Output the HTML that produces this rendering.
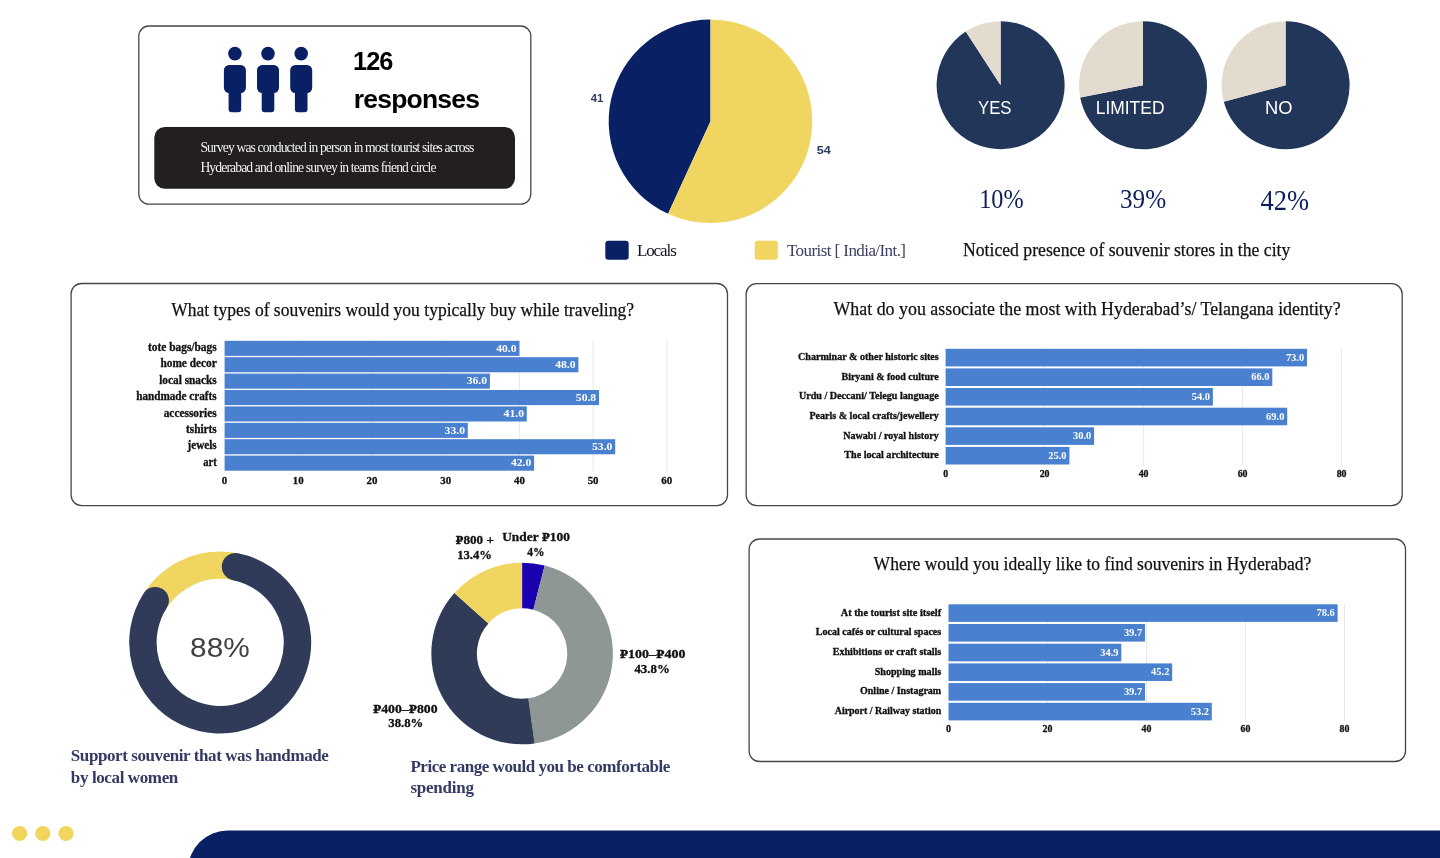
<!DOCTYPE html>
<html lang="en">
<head>
<meta charset="utf-8">
<title>Survey results</title>
<style>
html,body{margin:0;padding:0;background:#fff;}
body{width:1440px;height:858px;overflow:hidden;position:relative;}
svg{position:absolute;left:0;top:0;display:block;}
.se{font-family:"Liberation Serif", "DejaVu Serif", serif;}
.sa{font-family:"Liberation Sans", "DejaVu Sans", sans-serif;}
text{white-space:pre;}
</style>
</head>
<body>
<svg width="1440" height="858" viewBox="0 0 1440 858">
<rect x="138.8" y="26" width="392" height="178.1" rx="10" fill="#fff" stroke="#474747" stroke-width="1.3"/>
<rect x="154.3" y="127" width="360.7" height="61.8" rx="10.5" fill="#231f20"/>
<g fill="#0a2064"><circle cx="234.9" cy="53.6" r="6.8"/><rect x="223.9" y="64.9" width="22" height="28" rx="5.2"/><rect x="228.6" y="80" width="12.6" height="32.2" rx="3"/></g>
<g fill="#0a2064"><circle cx="268.0" cy="53.6" r="6.8"/><rect x="257.0" y="64.9" width="22" height="28" rx="5.2"/><rect x="261.7" y="80" width="12.6" height="32.2" rx="3"/></g>
<g fill="#0a2064"><circle cx="301.2" cy="53.6" r="6.8"/><rect x="290.2" y="64.9" width="22" height="28" rx="5.2"/><rect x="294.9" y="80" width="12.6" height="32.2" rx="3"/></g>
<text class="sa" x="353.1" y="70.3" font-size="25.3" font-weight="bold" fill="#000" letter-spacing="-1.0">126</text>
<text class="sa" y="108.3" font-size="26.5" fill="#000" font-weight="bold" x="353.7" textLength="126.3" lengthAdjust="spacing">responses</text>
<text class="se" y="151.9" font-size="13.6" fill="#f2f2f2" x="200.4" textLength="274.0" lengthAdjust="spacing">Survey was conducted in person in most tourist sites across</text>
<text class="se" y="171.7" font-size="13.6" fill="#f2f2f2" x="200.4" textLength="236.1" lengthAdjust="spacing">Hyderabad and online survey in teams friend circle</text>
<path d="M710.50 121.30L668.07 213.84A101.8 101.8 0 0 1 710.50 19.50Z" fill="#0a2064"/>
<path d="M710.50 121.30L710.50 19.50A101.8 101.8 0 1 1 668.07 213.84Z" fill="#f0d660"/>
<text class="sa" y="101.8" font-size="11.5" fill="#2a3a63" font-weight="bold" x="590.7" textLength="12.6" lengthAdjust="spacingAndGlyphs">41</text>
<text class="sa" y="154.0" font-size="11.5" fill="#2a3a63" font-weight="bold" x="816.7" textLength="14.0" lengthAdjust="spacingAndGlyphs">54</text>
<rect x="605.3" y="240.8" width="23.4" height="19" rx="3" fill="#0a2064"/>
<rect x="754.7" y="240.8" width="23.2" height="19" rx="3" fill="#f0d660"/>
<text class="se" y="255.5" font-size="17" fill="#15151f" x="636.9" textLength="39.9" lengthAdjust="spacing">Locals</text>
<text class="se" y="255.5" font-size="17" fill="#3d4060" x="787.0" textLength="119.0" lengthAdjust="spacing">Tourist [ India/Int.]</text>
<path d="M1000.60 85.20L1000.60 21.20A64 64 0 1 1 965.74 31.53Z" fill="#22365a"/>
<path d="M1000.60 85.20L965.74 31.53A64 64 0 0 1 1000.60 21.20Z" fill="#e3dbce"/>
<text class="sa" y="114.3" font-size="18.5" fill="#fff" x="978.0" textLength="33.5" lengthAdjust="spacingAndGlyphs">YES</text>
<path d="M1143.00 85.20L1143.00 21.20A64 64 0 1 1 1080.18 97.41Z" fill="#22365a"/>
<path d="M1143.00 85.20L1080.18 97.41A64 64 0 0 1 1143.00 21.20Z" fill="#e3dbce"/>
<text class="sa" y="114.3" font-size="18.5" fill="#fff" x="1095.7" textLength="68.8" lengthAdjust="spacingAndGlyphs">LIMITED</text>
<path d="M1285.60 85.20L1285.60 21.20A64 64 0 1 1 1223.78 101.76Z" fill="#22365a"/>
<path d="M1285.60 85.20L1223.78 101.76A64 64 0 0 1 1285.60 21.20Z" fill="#e3dbce"/>
<text class="sa" y="114.3" font-size="18.5" fill="#fff" x="1265.0" textLength="27.5" lengthAdjust="spacingAndGlyphs">NO</text>
<text class="se" y="207.5" font-size="26.5" fill="#0c1f5c" x="979.2" textLength="44.4" lengthAdjust="spacingAndGlyphs">10%</text>
<text class="se" y="207.5" font-size="26.5" fill="#0c1f5c" x="1120.0" textLength="46.1" lengthAdjust="spacingAndGlyphs">39%</text>
<text class="se" y="210.3" font-size="28.5" fill="#0c1f5c" x="1260.6" textLength="48.6" lengthAdjust="spacingAndGlyphs">42%</text>
<text class="se" y="255.6" font-size="18.5" fill="#111" x="963.0" textLength="327.3" lengthAdjust="spacingAndGlyphs" stroke="#111" stroke-width="0.25">Noticed presence of souvenir stores in the city</text>
<rect x="71.1" y="283.5" width="656.4" height="222.1" rx="10.5" fill="#fff" stroke="#474747" stroke-width="1.3"/>
<text class="se" y="316.3" font-size="19" fill="#111" x="171.2" textLength="462.8" lengthAdjust="spacingAndGlyphs" stroke="#111" stroke-width="0.25">What types of souvenirs would you typically buy while traveling?</text>
<rect x="297.8" y="340.8" width="1" height="130.9" fill="#e8e8e8"/>
<rect x="371.5" y="340.8" width="1" height="130.9" fill="#e8e8e8"/>
<rect x="445.2" y="340.8" width="1" height="130.9" fill="#e8e8e8"/>
<rect x="518.9" y="340.8" width="1" height="130.9" fill="#e8e8e8"/>
<rect x="592.6" y="340.8" width="1" height="130.9" fill="#e8e8e8"/>
<rect x="666.3" y="340.8" width="1" height="130.9" fill="#e8e8e8"/>
<rect x="224.6" y="340.8" width="294.8" height="15.1" fill="#4a80d0"/>
<text class="se" y="351.0" font-size="11.5" fill="#111" font-weight="bold" x="148.0" textLength="68.7" lengthAdjust="spacingAndGlyphs" stroke="#111" stroke-width="0.3">tote bags/bags</text>
<text class="se" y="351.6" font-size="10.5" fill="#fff" font-weight="bold" x="496.2" textLength="20.4" lengthAdjust="spacingAndGlyphs">40.0</text>
<rect x="224.6" y="357.2" width="353.8" height="15.1" fill="#4a80d0"/>
<text class="se" y="367.4" font-size="11.5" fill="#111" font-weight="bold" x="160.5" textLength="56.2" lengthAdjust="spacingAndGlyphs" stroke="#111" stroke-width="0.3">home decor</text>
<text class="se" y="367.9" font-size="10.5" fill="#fff" font-weight="bold" x="555.2" textLength="20.4" lengthAdjust="spacingAndGlyphs">48.0</text>
<rect x="224.6" y="373.6" width="265.3" height="15.1" fill="#4a80d0"/>
<text class="se" y="383.8" font-size="11.5" fill="#111" font-weight="bold" x="159.2" textLength="57.5" lengthAdjust="spacingAndGlyphs" stroke="#111" stroke-width="0.3">local snacks</text>
<text class="se" y="384.4" font-size="10.5" fill="#fff" font-weight="bold" x="466.7" textLength="20.4" lengthAdjust="spacingAndGlyphs">36.0</text>
<rect x="224.6" y="390.0" width="374.4" height="15.1" fill="#4a80d0"/>
<text class="se" y="400.2" font-size="11.5" fill="#111" font-weight="bold" x="136.2" textLength="80.5" lengthAdjust="spacingAndGlyphs" stroke="#111" stroke-width="0.3">handmade crafts</text>
<text class="se" y="400.8" font-size="10.5" fill="#fff" font-weight="bold" x="575.8" textLength="20.4" lengthAdjust="spacingAndGlyphs">50.8</text>
<rect x="224.6" y="406.4" width="302.2" height="15.1" fill="#4a80d0"/>
<text class="se" y="416.6" font-size="11.5" fill="#111" font-weight="bold" x="163.7" textLength="53.0" lengthAdjust="spacingAndGlyphs" stroke="#111" stroke-width="0.3">accessories</text>
<text class="se" y="417.1" font-size="10.5" fill="#fff" font-weight="bold" x="503.6" textLength="20.4" lengthAdjust="spacingAndGlyphs">41.0</text>
<rect x="224.6" y="422.8" width="243.2" height="15.1" fill="#4a80d0"/>
<text class="se" y="433.0" font-size="11.5" fill="#111" font-weight="bold" x="186.0" textLength="30.7" lengthAdjust="spacingAndGlyphs" stroke="#111" stroke-width="0.3">tshirts</text>
<text class="se" y="433.6" font-size="10.5" fill="#fff" font-weight="bold" x="444.6" textLength="20.4" lengthAdjust="spacingAndGlyphs">33.0</text>
<rect x="224.6" y="439.2" width="390.6" height="15.1" fill="#4a80d0"/>
<text class="se" y="449.4" font-size="11.5" fill="#111" font-weight="bold" x="187.5" textLength="29.2" lengthAdjust="spacingAndGlyphs" stroke="#111" stroke-width="0.3">jewels</text>
<text class="se" y="449.9" font-size="10.5" fill="#fff" font-weight="bold" x="592.0" textLength="20.4" lengthAdjust="spacingAndGlyphs">53.0</text>
<rect x="224.6" y="455.6" width="309.5" height="15.1" fill="#4a80d0"/>
<text class="se" y="465.8" font-size="11.5" fill="#111" font-weight="bold" x="203.2" textLength="13.5" lengthAdjust="spacingAndGlyphs" stroke="#111" stroke-width="0.3">art</text>
<text class="se" y="466.4" font-size="10.5" fill="#fff" font-weight="bold" x="510.9" textLength="20.4" lengthAdjust="spacingAndGlyphs">42.0</text>
<text class="se" y="483.9" font-size="10.9" fill="#111" font-weight="bold" x="224.6" text-anchor="middle" stroke="#111" stroke-width="0.3">0</text>
<text class="se" y="483.9" font-size="10.9" fill="#111" font-weight="bold" x="298.3" text-anchor="middle" stroke="#111" stroke-width="0.3">10</text>
<text class="se" y="483.9" font-size="10.9" fill="#111" font-weight="bold" x="372.0" text-anchor="middle" stroke="#111" stroke-width="0.3">20</text>
<text class="se" y="483.9" font-size="10.9" fill="#111" font-weight="bold" x="445.7" text-anchor="middle" stroke="#111" stroke-width="0.3">30</text>
<text class="se" y="483.9" font-size="10.9" fill="#111" font-weight="bold" x="519.4" text-anchor="middle" stroke="#111" stroke-width="0.3">40</text>
<text class="se" y="483.9" font-size="10.9" fill="#111" font-weight="bold" x="593.1" text-anchor="middle" stroke="#111" stroke-width="0.3">50</text>
<text class="se" y="483.9" font-size="10.9" fill="#111" font-weight="bold" x="666.8" text-anchor="middle" stroke="#111" stroke-width="0.3">60</text>
<rect x="746.15" y="283.7" width="656.05" height="221.9" rx="10.5" fill="#fff" stroke="#474747" stroke-width="1.3"/>
<text class="se" y="315.3" font-size="19" fill="#111" x="833.5" textLength="507.2" lengthAdjust="spacingAndGlyphs" stroke="#111" stroke-width="0.25">What do you associate the most with Hyderabad’s/ Telangana identity?</text>
<rect x="1044.1" y="348.8" width="1" height="116.7" fill="#e8e8e8"/>
<rect x="1143.1" y="348.8" width="1" height="116.7" fill="#e8e8e8"/>
<rect x="1242.1" y="348.8" width="1" height="116.7" fill="#e8e8e8"/>
<rect x="1341.1" y="348.8" width="1" height="116.7" fill="#e8e8e8"/>
<rect x="945.6" y="348.8" width="361.4" height="17.6" fill="#4a80d0"/>
<text class="se" y="360.2" font-size="9.6" fill="#111" font-weight="bold" x="798.0" textLength="140.7" lengthAdjust="spacingAndGlyphs" stroke="#111" stroke-width="0.3">Charminar &amp; other historic sites</text>
<text class="se" y="360.8" font-size="9.5" fill="#fff" font-weight="bold" x="1285.9" textLength="18.3" lengthAdjust="spacingAndGlyphs">73.0</text>
<rect x="945.6" y="368.4" width="326.7" height="17.6" fill="#4a80d0"/>
<text class="se" y="379.8" font-size="9.6" fill="#111" font-weight="bold" x="841.5" textLength="97.2" lengthAdjust="spacingAndGlyphs" stroke="#111" stroke-width="0.3">Biryani &amp; food culture</text>
<text class="se" y="380.4" font-size="9.5" fill="#fff" font-weight="bold" x="1251.2" textLength="18.3" lengthAdjust="spacingAndGlyphs">66.0</text>
<rect x="945.6" y="388.0" width="267.3" height="17.6" fill="#4a80d0"/>
<text class="se" y="399.4" font-size="9.6" fill="#111" font-weight="bold" x="798.9" textLength="139.8" lengthAdjust="spacingAndGlyphs" stroke="#111" stroke-width="0.3">Urdu / Deccani/ Telegu language</text>
<text class="se" y="400.0" font-size="9.5" fill="#fff" font-weight="bold" x="1191.8" textLength="18.3" lengthAdjust="spacingAndGlyphs">54.0</text>
<rect x="945.6" y="407.7" width="341.6" height="17.6" fill="#4a80d0"/>
<text class="se" y="419.1" font-size="9.6" fill="#111" font-weight="bold" x="809.4" textLength="129.3" lengthAdjust="spacingAndGlyphs" stroke="#111" stroke-width="0.3">Pearls &amp; local crafts/jewellery</text>
<text class="se" y="419.7" font-size="9.5" fill="#fff" font-weight="bold" x="1266.1" textLength="18.3" lengthAdjust="spacingAndGlyphs">69.0</text>
<rect x="945.6" y="427.3" width="148.5" height="17.6" fill="#4a80d0"/>
<text class="se" y="438.7" font-size="9.6" fill="#111" font-weight="bold" x="843.3" textLength="95.4" lengthAdjust="spacingAndGlyphs" stroke="#111" stroke-width="0.3">Nawabi / royal history</text>
<text class="se" y="439.3" font-size="9.5" fill="#fff" font-weight="bold" x="1073.0" textLength="18.3" lengthAdjust="spacingAndGlyphs">30.0</text>
<rect x="945.6" y="446.9" width="123.8" height="17.6" fill="#4a80d0"/>
<text class="se" y="458.3" font-size="9.6" fill="#111" font-weight="bold" x="844.3" textLength="94.4" lengthAdjust="spacingAndGlyphs" stroke="#111" stroke-width="0.3">The local architecture</text>
<text class="se" y="458.9" font-size="9.5" fill="#fff" font-weight="bold" x="1048.2" textLength="18.3" lengthAdjust="spacingAndGlyphs">25.0</text>
<text class="se" y="476.7" font-size="9.9" fill="#111" font-weight="bold" x="945.6" text-anchor="middle" stroke="#111" stroke-width="0.3">0</text>
<text class="se" y="476.7" font-size="9.9" fill="#111" font-weight="bold" x="1044.6" text-anchor="middle" stroke="#111" stroke-width="0.3">20</text>
<text class="se" y="476.7" font-size="9.9" fill="#111" font-weight="bold" x="1143.6" text-anchor="middle" stroke="#111" stroke-width="0.3">40</text>
<text class="se" y="476.7" font-size="9.9" fill="#111" font-weight="bold" x="1242.6" text-anchor="middle" stroke="#111" stroke-width="0.3">60</text>
<text class="se" y="476.7" font-size="9.9" fill="#111" font-weight="bold" x="1341.6" text-anchor="middle" stroke="#111" stroke-width="0.3">80</text>
<rect x="749.1" y="539.0" width="656.4" height="222.5" rx="10.5" fill="#fff" stroke="#474747" stroke-width="1.3"/>
<text class="se" y="570.3" font-size="19" fill="#111" x="873.6" textLength="437.8" lengthAdjust="spacingAndGlyphs" stroke="#111" stroke-width="0.25">Where would you ideally like to find souvenirs in Hyderabad?</text>
<rect x="1047.0" y="604.3" width="1" height="117.1" fill="#e8e8e8"/>
<rect x="1146.0" y="604.3" width="1" height="117.1" fill="#e8e8e8"/>
<rect x="1245.0" y="604.3" width="1" height="117.1" fill="#e8e8e8"/>
<rect x="1344.0" y="604.3" width="1" height="117.1" fill="#e8e8e8"/>
<rect x="948.5" y="604.3" width="389.1" height="17.6" fill="#4a80d0"/>
<text class="se" y="615.6" font-size="9.6" fill="#111" font-weight="bold" x="840.7" textLength="100.5" lengthAdjust="spacingAndGlyphs" stroke="#111" stroke-width="0.3">At the tourist site itself</text>
<text class="se" y="616.3" font-size="9.5" fill="#fff" font-weight="bold" x="1316.5" textLength="18.3" lengthAdjust="spacingAndGlyphs">78.6</text>
<rect x="948.5" y="624.0" width="196.5" height="17.6" fill="#4a80d0"/>
<text class="se" y="635.3" font-size="9.6" fill="#111" font-weight="bold" x="815.8" textLength="125.4" lengthAdjust="spacingAndGlyphs" stroke="#111" stroke-width="0.3">Local cafés or cultural spaces</text>
<text class="se" y="636.0" font-size="9.5" fill="#fff" font-weight="bold" x="1123.9" textLength="18.3" lengthAdjust="spacingAndGlyphs">39.7</text>
<rect x="948.5" y="643.7" width="172.8" height="17.6" fill="#4a80d0"/>
<text class="se" y="655.0" font-size="9.6" fill="#111" font-weight="bold" x="832.8" textLength="108.4" lengthAdjust="spacingAndGlyphs" stroke="#111" stroke-width="0.3">Exhibitions or craft stalls</text>
<text class="se" y="655.7" font-size="9.5" fill="#fff" font-weight="bold" x="1100.2" textLength="18.3" lengthAdjust="spacingAndGlyphs">34.9</text>
<rect x="948.5" y="663.4" width="223.7" height="17.6" fill="#4a80d0"/>
<text class="se" y="674.7" font-size="9.6" fill="#111" font-weight="bold" x="874.7" textLength="66.5" lengthAdjust="spacingAndGlyphs" stroke="#111" stroke-width="0.3">Shopping malls</text>
<text class="se" y="675.4" font-size="9.5" fill="#fff" font-weight="bold" x="1151.1" textLength="18.3" lengthAdjust="spacingAndGlyphs">45.2</text>
<rect x="948.5" y="683.1" width="196.5" height="17.6" fill="#4a80d0"/>
<text class="se" y="694.4" font-size="9.6" fill="#111" font-weight="bold" x="860.0" textLength="81.2" lengthAdjust="spacingAndGlyphs" stroke="#111" stroke-width="0.3">Online / Instagram</text>
<text class="se" y="695.1" font-size="9.5" fill="#fff" font-weight="bold" x="1123.9" textLength="18.3" lengthAdjust="spacingAndGlyphs">39.7</text>
<rect x="948.5" y="702.8" width="263.3" height="17.6" fill="#4a80d0"/>
<text class="se" y="714.1" font-size="9.6" fill="#111" font-weight="bold" x="834.7" textLength="106.5" lengthAdjust="spacingAndGlyphs" stroke="#111" stroke-width="0.3">Airport / Railway station</text>
<text class="se" y="714.8" font-size="9.5" fill="#fff" font-weight="bold" x="1190.7" textLength="18.3" lengthAdjust="spacingAndGlyphs">53.2</text>
<text class="se" y="731.9" font-size="9.9" fill="#111" font-weight="bold" x="948.5" text-anchor="middle" stroke="#111" stroke-width="0.3">0</text>
<text class="se" y="731.9" font-size="9.9" fill="#111" font-weight="bold" x="1047.5" text-anchor="middle" stroke="#111" stroke-width="0.3">20</text>
<text class="se" y="731.9" font-size="9.9" fill="#111" font-weight="bold" x="1146.5" text-anchor="middle" stroke="#111" stroke-width="0.3">40</text>
<text class="se" y="731.9" font-size="9.9" fill="#111" font-weight="bold" x="1245.5" text-anchor="middle" stroke="#111" stroke-width="0.3">60</text>
<text class="se" y="731.9" font-size="9.9" fill="#111" font-weight="bold" x="1344.5" text-anchor="middle" stroke="#111" stroke-width="0.3">80</text>
<path d="M155.22 600.63A77.3 77.3 0 0 1 235.48 566.73" fill="none" stroke="#f0d660" stroke-width="27.4"/>
<path d="M235.48 566.73A77.3 77.3 0 1 1 155.22 600.63" fill="none" stroke="#2f3b58" stroke-width="27.4" stroke-linecap="round"/>
<text class="sa" y="657.4" font-size="27" fill="#404040" x="219.9" text-anchor="middle" textLength="59.6" lengthAdjust="spacingAndGlyphs">88%</text>
<text class="se" y="761.0" font-size="17" fill="#343a64" font-weight="bold" x="70.8" textLength="258.0" lengthAdjust="spacing">Support souvenir that was handmade</text>
<text class="se" y="782.9" font-size="17" fill="#343a64" font-weight="bold" x="70.8" textLength="107.5" lengthAdjust="spacing">by local women</text>
<path d="M522.10 562.70A90.8 90.8 0 0 1 544.68 565.55L533.34 609.72A45.2 45.2 0 0 0 522.10 608.30Z" fill="#1b00b0"/>
<path d="M544.68 565.55A90.8 90.8 0 0 1 534.61 743.43L528.33 698.27A45.2 45.2 0 0 0 533.34 609.72Z" fill="#8e9696"/>
<path d="M534.61 743.43A90.8 90.8 0 0 1 454.37 593.03L488.38 623.40A45.2 45.2 0 0 0 528.33 698.27Z" fill="#303b58"/>
<path d="M454.37 593.03A90.8 90.8 0 0 1 522.10 562.70L522.10 608.30A45.2 45.2 0 0 0 488.38 623.40Z" fill="#f0d660"/>
<text class="se" y="543.9" font-size="12.5" fill="#111" font-weight="bold" x="455.6" textLength="38.3" lengthAdjust="spacingAndGlyphs" stroke="#111" stroke-width="0.3"><tspan font-size="10.8">₽</tspan>800 +</text>
<text class="se" y="559.4" font-size="12.5" fill="#111" font-weight="bold" x="457.2" textLength="34.8" lengthAdjust="spacingAndGlyphs" stroke="#111" stroke-width="0.3">13.4%</text>
<text class="se" y="540.6" font-size="12.5" fill="#111" font-weight="bold" x="502.2" textLength="67.8" lengthAdjust="spacingAndGlyphs" stroke="#111" stroke-width="0.3">Under <tspan font-size="10.8">₽</tspan>100</text>
<text class="se" y="555.6" font-size="12.5" fill="#111" font-weight="bold" x="527.2" textLength="17.2" lengthAdjust="spacingAndGlyphs" stroke="#111" stroke-width="0.3">4%</text>
<text class="se" y="657.9" font-size="12.5" fill="#111" font-weight="bold" x="619.7" textLength="65.7" lengthAdjust="spacingAndGlyphs" stroke="#111" stroke-width="0.3"><tspan font-size="10.8">₽</tspan>100–<tspan font-size="10.8">₽</tspan>400</text>
<text class="se" y="672.5" font-size="12.5" fill="#111" font-weight="bold" x="634.4" textLength="35.4" lengthAdjust="spacingAndGlyphs" stroke="#111" stroke-width="0.3">43.8%</text>
<text class="se" y="712.6" font-size="12.5" fill="#111" font-weight="bold" x="373.0" textLength="64.5" lengthAdjust="spacingAndGlyphs" stroke="#111" stroke-width="0.3"><tspan font-size="10.8">₽</tspan>400–<tspan font-size="10.8">₽</tspan>800</text>
<text class="se" y="727.3" font-size="12.5" fill="#111" font-weight="bold" x="388.3" textLength="35.0" lengthAdjust="spacingAndGlyphs" stroke="#111" stroke-width="0.3">38.8%</text>
<text class="se" y="771.7" font-size="17" fill="#343a64" font-weight="bold" x="410.4" textLength="260.0" lengthAdjust="spacing">Price range would you be comfortable</text>
<text class="se" y="792.9" font-size="17" fill="#343a64" font-weight="bold" x="410.4" textLength="63.6" lengthAdjust="spacing">spending</text>
<circle cx="19.6" cy="833.5" r="7.6" fill="#f0d65c"/>
<circle cx="42.8" cy="833.5" r="7.6" fill="#f0d65c"/>
<circle cx="66.0" cy="833.5" r="7.6" fill="#f0d65c"/>
<path d="M188 900V870.4A40 40 0 0 1 228 830.4H1500V900Z" fill="#0a2064"/>
</svg>
</body>
</html>
